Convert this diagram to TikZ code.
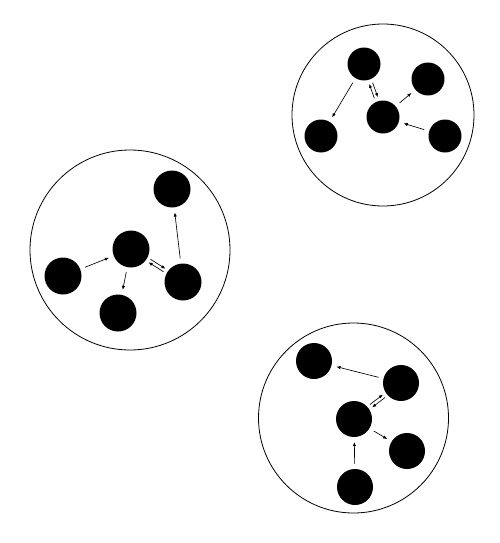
\documentclass[tikz,border=0pt]{standalone}
\usetikzlibrary{arrows.meta,calc}
\begin{document}
\begin{tikzpicture}[x=1pt,y=-1pt,
  ball/.style={circle,fill=black,inner sep=0pt,minimum size=#1},
  group/.style={circle,draw=black,line width=0.8pt,inner sep=0pt,minimum size=#1},
  arr/.style={line width=0.65pt,-{Latex[length=4pt,width=3.4pt]},shorten <=5pt,shorten >=5pt},
  dbl/.style={line width=0.65pt,-{Latex[length=4pt,width=3.4pt]},shorten <=#1,shorten >=#1}]
\useasboundingbox (0,0) rectangle (499,543);
% cluster 1 (top right)
\node[group=182pt] (g1) at (383,115) {};
\node[ball=33pt] (a1) at (364,64) {};
\node[ball=33pt] (a2) at (321,136) {};
\node[ball=33pt] (a3) at (383,117) {};
\node[ball=33pt] (a4) at (428,79) {};
\node[ball=33pt] (a5) at (445,136) {};
\draw[arr] (a1) -- (a2);
\draw[arr] (a3) -- (a4);
\draw[arr] (a5) -- (a3);
\draw[dbl=20.5pt] ($(a1.center)!1.8pt!90:(a3.center)$) -- ($(a3.center)!1.8pt!-90:(a1.center)$);
\draw[dbl=20.5pt] ($(a3.center)!1.8pt!90:(a1.center)$) -- ($(a1.center)!1.8pt!-90:(a3.center)$);
% cluster 2 (left)
\node[group=200pt] (g2) at (130,250) {};
\node[ball=37pt] (b1) at (172,189) {};
\node[ball=37pt] (b2) at (131,249) {};
\node[ball=37pt] (b3) at (63,276) {};
\node[ball=37pt] (b4) at (118,313) {};
\node[ball=37pt] (b5) at (183,282) {};
\draw[arr] (b3) -- (b2);
\draw[arr] (b2) -- (b4);
\draw[arr] (b5) -- (b1);
\draw[dbl=22pt] ($(b2.center)!1.8pt!90:(b5.center)$) -- ($(b5.center)!1.8pt!-90:(b2.center)$);
\draw[dbl=22pt] ($(b5.center)!1.8pt!90:(b2.center)$) -- ($(b2.center)!1.8pt!-90:(b5.center)$);
% cluster 3 (bottom right)
\node[group=190pt] (g3) at (353.5,418) {};
\node[ball=36pt] (c1) at (314,361) {};
\node[ball=36pt] (c2) at (401,383) {};
\node[ball=36pt] (c3) at (354,419) {};
\node[ball=36pt] (c4) at (407,451) {};
\node[ball=36pt] (c5) at (355,487) {};
\draw[arr] (c2) -- (c1);
\draw[arr] (c3) -- (c4);
\draw[arr] (c5) -- (c3);
\draw[dbl=21.5pt] ($(c3.center)!1.8pt!90:(c2.center)$) -- ($(c2.center)!1.8pt!-90:(c3.center)$);
\draw[dbl=21.5pt] ($(c2.center)!1.8pt!90:(c3.center)$) -- ($(c3.center)!1.8pt!-90:(c2.center)$);
\end{tikzpicture}
\end{document}
